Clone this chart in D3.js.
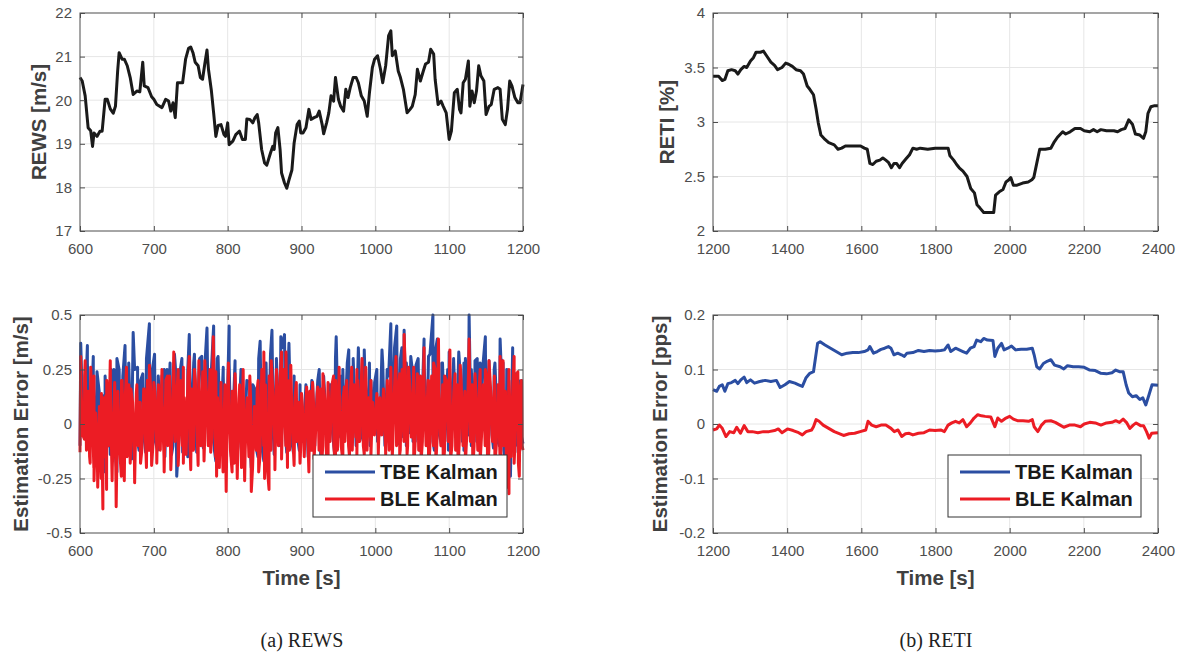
<!DOCTYPE html>
<html>
<head>
<meta charset="utf-8">
<script src="https://cdn.jsdelivr.net/npm/d3@7"></script>
<style>
  body { margin: 0; background: #fff; }
  .tick text { font-family: "Liberation Sans", Arial, sans-serif; font-size: 15px; fill: #4d4d4d; }
  .axlab { font-family: "Liberation Sans", Arial, sans-serif; font-size: 20.5px; font-weight: bold; fill: #404040; }
  .leg { font-family: "Liberation Sans", Arial, sans-serif; font-size: 20px; font-weight: bold; fill: #1a1a1a; }
  .cap { font-family: "Liberation Serif", "DejaVu Serif", serif; font-size: 20px; fill: #222; }
</style>
</head>
<body>
<svg id="fig" width="1184" height="657"></svg>
<script>
// ---- data ----

// (a) top: REWS [m/s]
var rewsTime = [600,603,607,611,614.5,617,619,623,627,630,634,637,641,645,648,651,653,657,660,664,668,672,677,681,685,687,692,697,700,704,711,716,720,723,726,729,732,735.5,739,743,747,750,753,756,760,763,766,769,772,774,778,781,784,787,791,795,797,800,802,807,811,816,820,824,826,830,834,837,840,842,846,850,853,858,861,863,865,868,871,873,877,880,883,887,890,894,897,899,902,906,910,913,917,921,924,928,930,934,937,940,943.5,946,950,953,957,960,963,966,970,974,977,981,985,989,992,996,999,1003,1007,1010,1014,1018,1021,1023,1027,1031,1034,1038,1043,1047,1050,1054,1057,1061,1065,1068,1072,1075,1079,1081,1085,1089,1092,1096,1100,1103,1107,1111,1114,1116,1119,1122,1126,1128,1131,1134,1137,1140,1143,1147,1150,1154,1157,1161,1166,1169,1172,1176,1179,1182,1185,1189,1193,1196,1200];
var rewsVal = [20.52,20.44,20.1,19.37,19.3,18.94,19.25,19.17,19.29,19.29,20.02,20.02,19.8,19.7,19.86,20.67,21.09,20.94,20.94,20.79,20.52,20.13,20.21,20.19,20.87,20.33,20.29,20.08,20.02,19.9,19.83,20.02,19.98,19.75,19.94,19.6,20.4,20.4,20.4,20.94,21.19,21.22,21.09,20.87,20.79,20.52,20.48,20.83,21.15,20.71,20.21,19.71,19.17,19.42,19.44,19.21,19.17,19.48,18.98,19.06,19.21,19.29,19.1,19.1,19.57,19.56,19.48,19.6,19.67,19.48,18.87,18.56,18.51,18.79,18.94,18.87,19.25,19.37,18.87,18.33,18.1,17.98,18.17,18.4,19.02,19.44,19.52,19.25,19.25,19.37,19.79,19.56,19.6,19.63,19.75,19.44,19.23,19.48,19.71,20.1,19.98,20.52,20.02,19.86,19.75,20.25,20.06,20.29,20.52,20.52,20.4,20.1,19.98,19.63,20.17,20.75,20.94,21.02,20.71,20.4,20.79,21.48,21.59,21.02,21.13,20.67,20.52,20.25,19.71,19.79,19.86,20.13,20.71,20.44,20.67,20.83,20.87,21.17,21.06,20.48,19.9,19.98,19.86,19.71,19.1,19.29,20.17,20.25,19.79,19.71,20.4,20.48,20.9,19.86,20.21,19.94,20.21,20.79,20.56,20.44,19.67,19.86,19.9,20.25,20.29,20.25,19.56,19.44,19.79,20.44,20.33,20.06,19.94,19.94,20.36];

// (a) bottom: estimation error [m/s]; peaks, troughs and the dense middle of each trace
var tbePeaksA = [[601,0.37],[610,0.36],[618,0.31],[623,0.24],[631,0.13],[639,0.16],[646,0.25],[653,0.25],[661,0.36],[666,0.23],[672,0.42],[678,0.26],[685,0.23],[694,0.46],[701,0.32],[711,0.22],[718,0.25],[728,0.32],[735,0.23],[748,0.41],[755,0.32],[765,0.31],[772,0.44],[781,0.45],[787,0.31],[794,0.26],[802,0.45],[810,0.29],[820,0.22],[830,0.19],[837,0.16],[844,0.38],[852,0.28],[860,0.43],[866,0.27],[872,0.4],[877,0.41],[883,0.37],[890,0.22],[898,0.18],[906,0.18],[915,0.19],[924,0.25],[931,0.16],[939,0.18],[947,0.4],[956,0.25],[964,0.34],[970,0.19],[977,0.35],[985,0.34],[992,0.28],[999,0.19],[1009,0.34],[1016,0.25],[1021,0.46],[1029,0.45],[1036,0.35],[1039,0.43],[1048,0.31],[1055,0.27],[1066,0.39],[1072,0.31],[1078,0.5],[1084,0.39],[1091,0.28],[1100,0.33],[1106,0.29],[1113,0.33],[1120,0.28],[1127,0.5],[1135,0.29],[1142,0.28],[1149,0.4],[1154,0.29],[1161,0.25],[1169,0.39],[1173,0.28],[1186,0.35],[1190,0.23],[1198,0.2]];
var tbeTroughsA = [[600,-0.1],[606,-0.04],[614,-0.1],[621,-0.17],[627,-0.18],[634,-0.22],[641,-0.14],[644,-0.17],[650,-0.22],[657,-0.16],[663,-0.1],[670,-0.16],[680,-0.12],[689,-0.13],[697,-0.12],[705,-0.12],[715,-0.15],[724,-0.14],[731,-0.24],[739,-0.13],[746,-0.15],[758,-0.13],[767,-0.11],[776,-0.09],[784,-0.17],[797,-0.2],[805,-0.15],[812,-0.17],[822,-0.18],[832,-0.2],[841,-0.15],[849,-0.17],[855,-0.2],[863,-0.14],[871,-0.1],[880,-0.13],[889,-0.13],[897,-0.12],[909,-0.15],[918,-0.1],[926,-0.15],[935,-0.13],[945,-0.14],[955,-0.11],[965,-0.1],[974,-0.1],[984,-0.08],[993,-0.1],[1003,-0.08],[1013,-0.1],[1022,-0.11],[1032,-0.09],[1042,-0.1],[1051,-0.08],[1060,-0.12],[1070,-0.1],[1080,-0.12],[1090,-0.1],[1099,-0.12],[1110,-0.1],[1120,-0.12],[1130,-0.1],[1140,-0.12],[1150,-0.09],[1160,-0.11],[1168,-0.1],[1177,-0.22],[1183,-0.24],[1189,-0.13],[1195,-0.17],[1200,-0.09]];
// middle of the TBE band, one reading every 4 s from t = 602
var tbeMidA = [0.25,-0.02,0.28,-0.08,0.2,-0.1,0.15,-0.12,0.22,-0.1,
  0.25,-0.08,0.3,-0.04,0.22,-0.08,0.28,-0.06,0.25,-0.08,
  0.2,-0.04,0.3,-0.06,0.25,-0.08,0.22,-0.04,0.25,-0.08,
  0.28,-0.1,0.22,-0.06,0.3,-0.04,0.25,-0.08,0.28,-0.05,
  0.3,-0.04,0.32,-0.08,0.25,-0.12,0.3,-0.1,0.22,-0.12,
  0.28,-0.08,0.22,-0.1,0.25,-0.12,0.2,-0.08,0.18,-0.1,
  0.3,-0.1,0.28,-0.04,0.32,-0.06,0.3,-0.02,0.35,-0.04,
  0.28,-0.06,0.18,-0.05,0.15,-0.08,0.18,-0.04,0.2,-0.06,
  0.2,-0.05,0.22,-0.08,0.18,-0.04,0.3,-0.06,0.22,-0.05,
  0.28,-0.02,0.3,-0.04,0.25,-0.06,0.22,-0.02,0.2,-0.04,
  0.25,-0.04,0.28,-0.02,0.22,-0.08,0.35,-0.04,0.3,-0.06,
  0.28,-0.04,0.25,-0.08,0.3,-0.05,0.28,-0.06,0.32,-0.08,
  0.35,-0.04,0.28,-0.08,0.25,-0.05,0.3,-0.06,0.28,-0.08,
  0.3,-0.05,0.25,-0.08,0.3,-0.04,0.28,-0.08,0.25,-0.05,
  0.28,-0.08,0.3,-0.12,0.25,-0.16,0.28,-0.1,0.2,-0.06];
var blePeaksA = [[601,0.31],[607,0.29],[614.5,0.26],[619,0.22],[629,0.14],[635,0.13],[641,0.29],[647,0.19],[657,0.2],[663,0.26],[669,0.16],[677,0.18],[687,0.16],[694,0.27],[700,0.19],[711,0.25],[718.5,0.22],[727,0.33],[733,0.25],[740,0.26],[748,0.31],[755,0.25],[761,0.29],[769,0.29],[776,0.25],[780.5,0.4],[784,0.24],[791,0.19],[801,0.28],[810,0.23],[821,0.25],[830,0.22],[840,0.16],[849,0.33],[859,0.29],[866,0.22],[873,0.33],[879,0.33],[885.5,0.27],[893,0.19],[900,0.14],[907,0.17],[915,0.19],[922,0.17],[929,0.23],[936,0.19],[943.5,0.22],[951,0.26],[958,0.17],[968,0.26],[975,0.25],[982,0.3],[987,0.26],[994,0.2],[1002,0.14],[1011,0.16],[1021,0.26],[1028,0.31],[1033,0.23],[1039,0.41],[1045,0.26],[1052,0.26],[1057,0.23],[1066,0.35],[1072,0.2],[1079,0.28],[1085.5,0.39],[1094,0.22],[1101,0.34],[1108,0.23],[1115,0.27],[1127,0.39],[1135,0.23],[1142,0.25],[1149,0.25],[1154,0.29],[1161,0.16],[1169,0.31],[1173,0.29],[1181,0.25],[1188,0.31],[1193,0.24],[1198,0.2]];
var bleTroughsA = [[600,-0.13],[606,-0.07],[613,-0.15],[619,-0.26],[624,-0.29],[631,-0.39],[636,-0.3],[643.5,-0.26],[649,-0.38],[656,-0.24],[660,-0.26],[668,-0.18],[674,-0.27],[682,-0.18],[690,-0.2],[697,-0.19],[704,-0.18],[714,-0.22],[723,-0.21],[733,-0.19],[740,-0.18],[750,-0.21],[760,-0.19],[768,-0.17],[777,-0.13],[785,-0.24],[798,-0.31],[806,-0.22],[813,-0.25],[823,-0.26],[832,-0.31],[842,-0.22],[850,-0.25],[856,-0.3],[864,-0.21],[873,-0.16],[881,-0.2],[890,-0.19],[898,-0.18],[910,-0.22],[917,-0.16],[927,-0.21],[936,-0.19],[946,-0.2],[956,-0.17],[965,-0.15],[975,-0.15],[985,-0.14],[994,-0.15],[1004,-0.14],[1014,-0.14],[1023,-0.15],[1033,-0.14],[1043,-0.14],[1052,-0.2],[1062,-0.17],[1072,-0.22],[1082,-0.18],[1092,-0.2],[1102,-0.16],[1112,-0.21],[1122,-0.18],[1132,-0.2],[1142,-0.17],[1152,-0.22],[1162,-0.19],[1170,-0.15],[1178,-0.29],[1181,-0.32],[1188,-0.18],[1195,-0.24],[1200,-0.12]];
// middle of the BLE band, one reading every 2.5 s from t = 601.25
var bleMidA = [0.18,-0.05,0.22,-0.12,0.15,-0.18,0.1,-0.2,0.05,-0.22,
  0.08,-0.25,0.12,-0.15,0.2,-0.1,0.15,-0.2,0.1,-0.28,
  0.15,-0.12,0.2,-0.08,0.12,-0.15,0.18,-0.1,0.1,-0.18,
  0.14,-0.1,0.1,-0.12,0.16,-0.08,0.2,-0.12,0.12,-0.1,
  0.15,-0.08,0.18,-0.12,0.1,-0.15,0.2,-0.1,0.22,-0.14,
  0.18,-0.08,0.15,-0.12,0.2,-0.1,0.12,-0.14,0.22,-0.08,
  0.16,-0.12,0.2,-0.06,0.18,-0.1,0.24,-0.08,0.15,-0.1,
  0.2,-0.06,0.25,-0.15,0.12,-0.2,0.1,-0.22,0.18,-0.1,
  0.2,-0.12,0.15,-0.18,0.12,-0.1,0.18,-0.2,0.15,-0.12,
  0.12,-0.15,0.1,-0.2,0.08,-0.12,0.2,-0.15,0.25,-0.1,
  0.18,-0.2,0.22,-0.12,0.15,-0.08,0.25,-0.1,0.22,-0.05,
  0.25,-0.1,0.2,-0.12,0.15,-0.1,0.12,-0.08,0.1,-0.12,
  0.08,-0.15,0.12,-0.08,0.15,-0.12,0.1,-0.06,0.14,-0.12,
  0.16,-0.1,0.12,-0.14,0.15,-0.08,0.18,-0.1,0.2,-0.12,
  0.15,-0.1,0.12,-0.08,0.2,-0.1,0.15,-0.12,0.18,-0.06,
  0.2,-0.08,0.22,-0.1,0.15,-0.12,0.12,-0.08,0.1,-0.05,
  0.1,-0.08,0.12,-0.05,0.15,-0.1,0.2,-0.12,0.22,-0.08,
  0.2,-0.1,0.15,-0.12,0.25,-0.08,0.18,-0.1,0.2,-0.06,
  0.18,-0.1,0.15,-0.12,0.22,-0.08,0.15,-0.1,0.2,-0.12,
  0.22,-0.1,0.25,-0.06,0.15,-0.1,0.18,-0.12,0.2,-0.08,
  0.22,-0.1,0.15,-0.12,0.18,-0.08,0.2,-0.1,0.15,-0.06,
  0.25,-0.08,0.18,-0.1,0.15,-0.12,0.2,-0.06,0.18,-0.1,
  0.2,-0.12,0.15,-0.08,0.22,-0.1,0.18,-0.14,0.2,-0.1,
  0.15,-0.2,0.2,-0.15,0.18,-0.12,0.22,-0.18,0.15,-0.1];

// (b) top: RETI [%]
var retiTime = [1200,1215,1225,1232,1240,1250,1260,1267,1275,1284,1291,1301,1309,1316,1328,1336,1344,1356,1366,1374,1386,1396,1404,1414,1424,1436,1444,1454,1461,1471,1478,1484,1491,1502,1512,1527,1537,1547,1557,1577,1598,1608,1616,1623,1631,1640,1650,1658,1666,1673,1681,1688,1695,1703,1710,1720,1730,1739,1749,1759,1779,1799,1819,1834,1839,1849,1857,1864,1874,1885,1895,1905,1912,1920,1930,1945,1957,1962,1972,1982,1990,1998,2003,2010,2020,2035,2050,2060,2065,2073,2081,2096,2111,2119,2129,2143,2151,2163,2176,2191,2201,2216,2226,2236,2246,2261,2281,2291,2301,2311,2321,2331,2339,2351,2361,2367,2373,2381,2391,2400];
var retiVal = [3.42,3.42,3.38,3.39,3.47,3.48,3.47,3.44,3.48,3.51,3.5,3.56,3.59,3.64,3.64,3.65,3.61,3.55,3.52,3.48,3.5,3.54,3.53,3.51,3.48,3.47,3.44,3.33,3.3,3.25,3.12,2.99,2.88,2.84,2.81,2.79,2.75,2.76,2.78,2.78,2.78,2.76,2.75,2.62,2.61,2.64,2.65,2.67,2.65,2.63,2.58,2.62,2.62,2.58,2.62,2.66,2.7,2.76,2.75,2.76,2.75,2.76,2.76,2.76,2.69,2.65,2.61,2.58,2.55,2.5,2.39,2.35,2.24,2.21,2.17,2.17,2.17,2.33,2.36,2.38,2.45,2.47,2.49,2.42,2.42,2.44,2.45,2.47,2.49,2.62,2.75,2.75,2.76,2.81,2.86,2.91,2.89,2.91,2.94,2.94,2.92,2.91,2.93,2.91,2.93,2.92,2.92,2.91,2.93,2.94,3.02,2.98,2.89,2.88,2.85,2.91,3.08,3.14,3.15,3.15];

// (b) bottom: estimation error [pps]
var tbeTimeB = [1200,1210,1217,1225,1232,1240,1250,1260,1267,1275,1284,1291,1301,1312,1326,1341,1356,1371,1381,1394,1406,1421,1431,1441,1451,1461,1471,1482,1489,1502,1517,1532,1547,1562,1577,1592,1608,1618,1623,1633,1643,1653,1663,1673,1680,1688,1698,1708,1716,1723,1739,1754,1769,1784,1799,1814,1824,1834,1841,1854,1864,1874,1884,1894,1904,1911,1922,1930,1940,1955,1960,1968,1978,1985,1995,2005,2016,2031,2046,2061,2066,2073,2081,2091,2101,2111,2121,2136,2146,2156,2171,2186,2201,2216,2231,2246,2261,2276,2286,2296,2306,2314,2321,2331,2341,2351,2359,2367,2376,2384,2400];
var tbeValB = [0.063,0.06,0.069,0.072,0.06,0.074,0.076,0.08,0.074,0.081,0.086,0.076,0.081,0.075,0.078,0.08,0.078,0.08,0.067,0.072,0.078,0.075,0.072,0.069,0.085,0.093,0.096,0.148,0.151,0.145,0.139,0.133,0.127,0.13,0.131,0.131,0.133,0.136,0.142,0.13,0.133,0.137,0.139,0.142,0.139,0.127,0.13,0.127,0.124,0.13,0.131,0.135,0.133,0.135,0.134,0.135,0.136,0.145,0.133,0.139,0.136,0.133,0.13,0.139,0.142,0.154,0.151,0.157,0.154,0.153,0.124,0.139,0.148,0.136,0.139,0.143,0.136,0.137,0.137,0.139,0.127,0.105,0.101,0.111,0.115,0.118,0.108,0.105,0.101,0.107,0.105,0.105,0.104,0.099,0.098,0.093,0.092,0.094,0.099,0.096,0.096,0.072,0.057,0.05,0.052,0.045,0.048,0.035,0.054,0.072,0.071];
var bleTimeB = [1200,1210,1217,1225,1235,1245,1256,1264,1274,1284,1294,1306,1321,1336,1351,1366,1376,1386,1401,1416,1431,1441,1451,1466,1471,1478,1486,1497,1512,1527,1542,1552,1567,1582,1597,1612,1618,1628,1640,1653,1666,1680,1689,1699,1709,1719,1729,1739,1754,1769,1784,1799,1814,1824,1834,1844,1854,1864,1874,1884,1894,1904,1914,1924,1934,1949,1960,1968,1978,1990,2000,2010,2021,2036,2051,2061,2066,2076,2086,2096,2111,2123,2136,2146,2161,2176,2191,2201,2216,2231,2246,2261,2276,2286,2296,2306,2316,2324,2333,2341,2353,2361,2369,2376,2383,2400];
var bleValB = [-0.011,-0.009,-0.002,-0.008,-0.023,-0.014,-0.016,-0.006,-0.017,-0.003,-0.014,-0.014,-0.016,-0.014,-0.014,-0.012,-0.009,-0.016,-0.009,-0.012,-0.016,-0.02,-0.014,-0.011,-0.005,0.008,0.005,-0.002,-0.008,-0.014,-0.018,-0.021,-0.018,-0.017,-0.014,-0.011,0.005,-0.002,-0.005,-0.002,-0.002,-0.008,-0.014,-0.011,-0.023,-0.018,-0.017,-0.02,-0.017,-0.016,-0.011,-0.012,-0.011,-0.014,-0.002,0.002,0.005,0.002,0.008,-0.005,0.002,0.011,0.017,0.015,0.014,0.013,-0.005,0.011,0.005,0.011,0.014,0.009,0.006,0.006,0.005,0.008,-0.005,-0.014,-0.002,0.005,0.006,0.003,-0.002,-0.006,-0.002,-0.002,-0.005,0,0.003,0.002,-0.002,0.002,0.003,0.006,0.003,0.009,0.002,-0.008,-0.002,0.002,-0.003,-0.003,-0.014,-0.026,-0.017,-0.016];

var legendNames = ["TBE Kalman", "BLE Kalman"];
var blue = "#2b4ea2", red = "#ec1c24";

// ---- drawing ----
var svg = d3.select("#fig");
var frameCol = "#4d4d4d";

function zip(t, v) { return t.map(function(d, i) { return [d, v[i]]; }); }
function merge() {
  var all = [].concat.apply([], arguments);
  return d3.sort(all, function(d) { return d[0]; });
}
// sample clock for the evenly read middle-band values
function clock(start, step, vals) { return vals.map(function(v, i) { return [start + i * step, v]; }); }

function panel(opt) {
  var b = opt.box;
  var x = d3.scaleLinear().domain(opt.xDom).range([b.x0, b.x1]);
  var y = d3.scaleLinear().domain(opt.yDom).range([b.y1, b.y0]);
  var g = svg.append("g");

  // grid
  g.append("g").selectAll("line").data(opt.xTicks.slice(1, -1)).enter().append("line")
    .attr("x1", d => x(d)).attr("x2", d => x(d)).attr("y1", b.y0).attr("y2", b.y1)
    .attr("stroke", "#e6e6e6").attr("stroke-width", 1);
  g.append("g").selectAll("line").data(opt.yTicks.slice(1, -1)).enter().append("line")
    .attr("y1", d => y(d)).attr("y2", d => y(d)).attr("x1", b.x0).attr("x2", b.x1)
    .attr("stroke", "#e6e6e6").attr("stroke-width", 1);

  var line = d3.line().x(d => x(d[0])).y(d => y(d[1]));
  opt.series.forEach(function(s) {
    g.append("path").datum(s.data).attr("d", line)
      .attr("fill", "none").attr("stroke", s.color).attr("stroke-width", s.width || 3)
      .attr("stroke-linejoin", "round");
  });

  // axes, ticks pointing inwards
  var fmt = d => String(d);
  var ax = g.append("g").attr("transform", `translate(0,${b.y1})`)
    .call(d3.axisBottom(x).tickValues(opt.xTicks).tickFormat(fmt).tickSizeInner(-5).tickSizeOuter(0).tickPadding(12));
  var ay = g.append("g").attr("transform", `translate(${b.x0},0)`)
    .call(d3.axisLeft(y).tickValues(opt.yTicks).tickFormat(fmt).tickSizeInner(-5).tickSizeOuter(0).tickPadding(8));
  var axT = g.append("g").attr("transform", `translate(0,${b.y0})`)
    .call(d3.axisTop(x).tickValues(opt.xTicks).tickFormat("").tickSizeInner(-5).tickSizeOuter(0));
  var ayR = g.append("g").attr("transform", `translate(${b.x1},0)`)
    .call(d3.axisRight(y).tickValues(opt.yTicks).tickFormat("").tickSizeInner(-5).tickSizeOuter(0));
  [ax, ay, axT, ayR].forEach(function(a) {
    a.select(".domain").remove();
    a.selectAll(".tick line").attr("stroke", frameCol);
  });

  // legend
  if (opt.legend) {
    var L = opt.legend;
    var lg = g.append("g");
    lg.append("rect").attr("x", L.x).attr("y", L.y).attr("width", L.w).attr("height", L.h)
      .attr("fill", "#fff").attr("stroke", "#333").attr("stroke-width", 1);
    opt.series.forEach(function(s, i) {
      var yy = L.y + 17 + i * 27;
      lg.append("line").attr("x1", L.x + 12).attr("x2", L.x + 62).attr("y1", yy).attr("y2", yy)
        .attr("stroke", s.color).attr("stroke-width", 3);
      lg.append("text").attr("class", "leg").attr("x", L.x + 67).attr("y", yy + 7).text(legendNames[i]);
    });
  }

  // frame
  g.append("rect").attr("x", b.x0).attr("y", b.y0).attr("width", b.x1 - b.x0).attr("height", b.y1 - b.y0)
    .attr("fill", "none").attr("stroke", frameCol).attr("stroke-width", 1);

  // labels
  g.append("text").attr("class", "axlab").attr("text-anchor", "middle")
    .attr("transform", `translate(${opt.yLabX},${(b.y0 + b.y1) / 2}) rotate(-90)`).text(opt.yLabel);
  if (opt.xLabel) {
    g.append("text").attr("class", "axlab").attr("text-anchor", "middle")
      .attr("x", (b.x0 + b.x1) / 2).attr("y", b.y1 + 52).text(opt.xLabel);
  }
}

var ticksA = [600, 700, 800, 900, 1000, 1100, 1200];
var ticksB = [1200, 1400, 1600, 1800, 2000, 2200, 2400];

panel({
  box: {x0: 80, x1: 523, y0: 13, y1: 231},
  xDom: [600, 1200], xTicks: ticksA,
  yDom: [17, 22], yTicks: [17, 18, 19, 20, 21, 22],
  series: [{data: zip(rewsTime, rewsVal), color: "#1a1a1a"}],
  yLabel: "REWS [m/s]", yLabX: 46
});

panel({
  box: {x0: 713, x1: 1158, y0: 13, y1: 231},
  xDom: [1200, 2400], xTicks: ticksB,
  yDom: [2, 4], yTicks: [2, 2.5, 3, 3.5, 4],
  series: [{data: zip(retiTime, retiVal), color: "#1a1a1a"}],
  yLabel: "RETI [%]", yLabX: 674
});

panel({
  box: {x0: 80, x1: 523, y0: 315, y1: 533},
  xDom: [600, 1200], xTicks: ticksA,
  yDom: [-0.5, 0.5], yTicks: [-0.5, -0.25, 0, 0.25, 0.5],
  series: [
    {data: merge(tbePeaksA, tbeTroughsA, clock(602, 4, tbeMidA)), color: blue},
    {data: merge(blePeaksA, bleTroughsA, clock(601.25, 2.5, bleMidA)), color: red}
  ],
  legend: {x: 313, y: 455, w: 194, h: 62},
  yLabel: "Estimation Error [m/s]", yLabX: 28, xLabel: "Time [s]"
});

panel({
  box: {x0: 713, x1: 1158, y0: 315, y1: 533},
  xDom: [1200, 2400], xTicks: ticksB,
  yDom: [-0.2, 0.2], yTicks: [-0.2, -0.1, 0, 0.1, 0.2],
  series: [
    {data: zip(tbeTimeB, tbeValB), color: blue},
    {data: zip(bleTimeB, bleValB), color: red}
  ],
  legend: {x: 948, y: 455, w: 193, h: 62},
  yLabel: "Estimation Error [pps]", yLabX: 667, xLabel: "Time [s]"
});

// sub-captions
svg.append("text").attr("class", "cap").attr("text-anchor", "middle").attr("x", 302).attr("y", 647).text("(a) REWS");
svg.append("text").attr("class", "cap").attr("text-anchor", "middle").attr("x", 936).attr("y", 647).text("(b) RETI");
</script>
</body>
</html>
